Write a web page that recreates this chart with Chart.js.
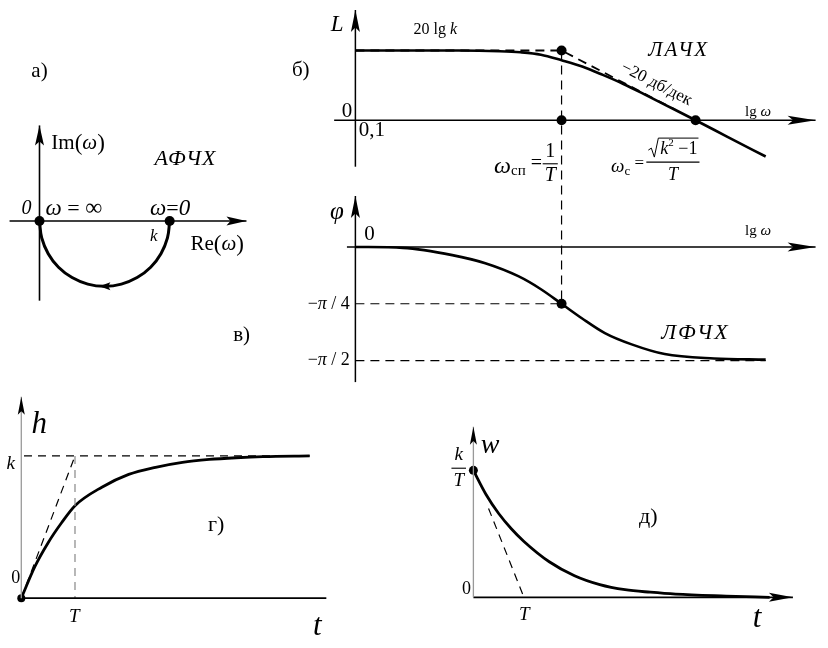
<!DOCTYPE html>
<html><head><meta charset="utf-8">
<script src="https://cdn.jsdelivr.net/npm/chart.js@4.4.1/dist/chart.umd.min.js"></script>
<style>
html,body{margin:0;padding:0;background:#fff;}
body{width:828px;height:648px;position:relative;overflow:hidden;}
canvas{position:absolute;}
</style></head><body>
<canvas id="cA" width="290" height="320" style="left:0px;top:40px"></canvas>
<canvas id="cB" width="548" height="390" style="left:280px;top:0px"></canvas>
<canvas id="cG" width="340" height="263" style="left:0px;top:385px"></canvas>
<canvas id="cD" width="408" height="248" style="left:420px;top:400px"></canvas>
<script>
// ---------- data ----------
// а) АФЧХ (units of k)
const nyqRe = [1, 0.983, 0.933, 0.854, 0.75, 0.629, 0.5, 0.371, 0.25, 0.146, 0.067, 0.017, 0];
const nyqIm = [0, -0.129, -0.25, -0.354, -0.433, -0.483, -0.5, -0.483, -0.433, -0.354, -0.25, -0.129, 0];
const nyqMarksRe = [0, 1];
const nyqMarksIm = [0, 0];
// б) ЛАЧХ (x: lg ω in units where corner = 1, y: units of 20lg k)
const lgW   = [0, 0.5, 0.7, 0.8, 0.9, 1.0, 1.1, 1.2, 1.3, 1.4, 1.5, 1.65, 1.8, 1.99];
const lachx = [1, 1, 0.99, 0.975, 0.94, 0.86, 0.77, 0.65, 0.52, 0.375, 0.225, 0, -0.23, -0.52];
const asymX = [0, 1, 1.55];
const asymY = [1, 1, 0.154];
const lMarksX = [1, 1, 1.65];
const lMarksY = [1, 0, 0];
// в) ЛФЧХ (radians)
const phX = [0, 0.23, 0.47, 0.63, 0.79, 0.9, 1.0, 1.1, 1.21, 1.34, 1.5, 1.74, 1.99];
const phY = [0, -0.013, -0.113, -0.225, -0.404, -0.584, -0.785, -0.988, -1.19, -1.346, -1.48, -1.54, -1.557];
const phTickVals = [-0.785, -1.571];
const phTickLabels = ['4', '2'];
// г) h(t) (t in units of T, h in units of k)
const tH    = [0, 0.25, 0.5, 0.75, 1, 1.5, 2, 2.5, 3, 3.5, 4, 4.5, 5.37];
const hVals = [0, 0.22, 0.39, 0.53, 0.65, 0.78, 0.87, 0.92, 0.955, 0.975, 0.987, 0.995, 1.0];
// д) w(t) (t in units of T, w in units of k/T)
const tW    = [0, 0.25, 0.5, 0.75, 1, 1.5, 2, 2.5, 3, 3.5, 4, 5, 5.86];
const wVals = [1, 0.81, 0.66, 0.54, 0.44, 0.28, 0.17, 0.10, 0.06, 0.04, 0.025, 0.01, 0];

// ---------- helpers ----------
const S = "'Liberation Serif','DejaVu Serif',serif";
const F = (size, it) => (it ? 'italic ' : '') + size + 'px ' + S;
const pts = (xs, ys) => xs.map((x, i) => ({x, y: ys[i]}));

function line(xs, ys, o) {
  o = o || {};
  return {data: pts(xs, ys), borderColor: o.c || '#000', borderWidth: o.w || 1.5,
    borderDash: o.dash || [], pointRadius: 0, fill: false, tension: o.t || 0,
    cubicInterpolationMode: o.mono ? 'monotone' : 'default', yAxisID: o.ax || 'y',
    borderCapStyle: 'butt'};
}
function dots(xs, ys, ax, r) {
  return {data: pts(xs, ys), showLine: false, pointRadius: r || 5, pointBackgroundColor: '#000',
    pointBorderWidth: 0, yAxisID: ax || 'y'};
}
function drawParts(ctx, px, py, parts, align) {
  let w = 0;
  const ws = parts.map(p => { ctx.font = p.f; ctx.letterSpacing = p.ls || '0px';
    const m = ctx.measureText(p.t).width; w += m; return m; });
  let x = px - (align === 'center' ? w / 2 : align === 'right' ? w : 0);
  ctx.textBaseline = 'middle'; ctx.textAlign = 'left';
  parts.forEach((p, i) => { ctx.font = p.f; ctx.letterSpacing = p.ls || '0px';
    ctx.fillText(p.t, x, py + (p.dy || 0)); x += ws[i]; });
  ctx.letterSpacing = '0px';
  return w;
}
function partsWidth(ctx, parts) {
  let w = 0;
  parts.forEach(p => { ctx.font = p.f; ctx.letterSpacing = p.ls || '0px'; w += ctx.measureText(p.t).width; });
  ctx.letterSpacing = '0px';
  return w;
}
function deco(cfg) {
  return {id: 'deco', afterDatasetsDraw(chart) {
    const ctx = chart.ctx, X = chart.scales.x;
    const P = (x, y, ax) => [X.getPixelForValue(x), chart.scales[ax || 'y'].getPixelForValue(y)];
    ctx.save();
    (cfg.links || []).forEach(l => {
      const a = P(l.x1, l.y1, l.ax1), b = P(l.x2, l.y2, l.ax2);
      ctx.setLineDash(l.dash || []); ctx.lineWidth = l.w || 1.2; ctx.strokeStyle = l.c || '#000';
      ctx.beginPath(); ctx.moveTo(a[0], a[1]); ctx.lineTo(b[0], b[1]); ctx.stroke();
    });
    ctx.setLineDash([]);
    (cfg.arrows || []).forEach(a => {
      const p0 = P(a.x1, a.y1, a.ax), p1 = P(a.x2, a.y2, a.ax);
      const ang = Math.atan2(p1[1] - p0[1], p1[0] - p0[0]);
      const L = a.len || 18, H = a.hw || 4;
      ctx.save(); ctx.translate(p1[0], p1[1]); ctx.rotate(ang); ctx.fillStyle = '#000';
      ctx.beginPath(); ctx.moveTo(0, 0); ctx.lineTo(-L, -H); ctx.lineTo(-L * 0.8, 0); ctx.lineTo(-L, H);
      ctx.closePath(); ctx.fill(); ctx.restore();
    });
    ctx.fillStyle = '#000';
    (cfg.texts || []).forEach(t => {
      const p = P(t.x, t.y, t.ax);
      ctx.save(); ctx.translate(p[0], p[1]); if (t.rot) ctx.rotate(t.rot * Math.PI / 180);
      drawParts(ctx, 0, 0, t.parts, t.align || 'center'); ctx.restore();
    });
    (cfg.fracs || []).forEach(fr => {
      const p = P(fr.x, fr.y, fr.ax);
      const nw = partsWidth(ctx, fr.num) + (fr.sqrt ? 12 : 0);
      const dw = partsWidth(ctx, fr.den);
      const bw = Math.max(nw, dw) + 4;
      ctx.lineWidth = 1.1; ctx.strokeStyle = '#000';
      ctx.beginPath(); ctx.moveTo(p[0] - bw / 2, p[1]); ctx.lineTo(p[0] + bw / 2, p[1]); ctx.stroke();
      const ny = p[1] - fr.gap, dy = p[1] + fr.gap;
      if (fr.sqrt) {
        const sx = p[0] - nw / 2;
        ctx.lineWidth = 1;
        ctx.beginPath(); ctx.moveTo(sx, ny + 1); ctx.lineTo(sx + 3, ny - 1); ctx.lineTo(sx + 6, ny + 8);
        ctx.lineTo(sx + 10, ny - 11); ctx.lineTo(sx + nw + 1, ny - 11); ctx.stroke();
        drawParts(ctx, sx + 12, ny, fr.num, 'left');
      } else {
        drawParts(ctx, p[0], ny, fr.num, 'center');
      }
      drawParts(ctx, p[0], dy, fr.den, 'center');
    });
    ctx.restore();
  }};
}
function mk(id, xr, yrs, datasets, cfg) {
  const scales = {x: {type: 'linear', min: xr[0], max: xr[1], display: false}};
  for (const k in yrs) scales[k] = {type: 'linear', min: yrs[k][0], max: yrs[k][1], display: false};
  return new Chart(document.getElementById(id), {
    type: 'line', data: {datasets},
    options: {responsive: false, animation: false, events: [], layout: {padding: 0},
      plugins: {legend: {display: false}, tooltip: {enabled: false}}, scales},
    plugins: [deco(cfg)]
  });
}
const piLabel = d => [{t: '\u2212', f: F(18)}, {t: 'π', f: F(18, 1)}, {t: ' / ' + d, f: F(18)}];

// ---------- а) АФЧХ ----------
mk('cA', [-0.265, 1.886], {y: [-1.026, 1.348]}, [
  line([-0.23, 1.59], [0, 0], {w: 1.6}),
  line([0, 0], [-0.61, 0.732], {w: 1.6}),
  line(nyqRe, nyqIm, {w: 3, t: 0.4}),
  dots(nyqMarksRe, nyqMarksIm, 'y', 5)
], {
  arrows: [
    {x1: 1.4, y1: 0, x2: 1.59, y2: 0, len: 20, hw: 4.5},
    {x1: 0, y1: 0.5, x2: 0, y2: 0.732, len: 20, hw: 4.5},
    {x1: 0.6, y1: -0.5, x2: 0.46, y2: -0.5, len: 11, hw: 4}
  ],
  texts: [
    {x: 0.0, y: 1.144, parts: [{t: 'а)', f: F(21)}]},
    {x: 0.091, y: 0.591, align: 'left', parts: [{t: 'Im', f: F(21)}, {t: '(', f: F(23)}, {t: 'ω', f: F(21, 1)}, {t: ')', f: F(23)}]},
    {x: 1.122, y: 0.472, parts: [{t: 'АФЧХ', f: F(22, 1), ls: '1px'}]},
    {x: -0.10, y: 0.093, parts: [{t: '0', f: F(20, 1)}]},
    {x: 0.047, y: 0.093, align: 'left', parts: [{t: 'ω', f: F(23, 1)}, {t: ' = ', f: F(22)}, {t: '∞', f: F(24)}]},
    {x: 1.004, y: 0.093, parts: [{t: 'ω', f: F(23, 1)}, {t: '=', f: F(22)}, {t: '0', f: F(23, 1)}]},
    {x: 0.878, y: -0.115, parts: [{t: 'k', f: F(17, 1)}]},
    {x: 1.16, y: -0.18, align: 'left', parts: [{t: 'Re', f: F(21)}, {t: '(', f: F(23)}, {t: 'ω', f: F(21, 1)}, {t: ')', f: F(23)}]},
    {x: 1.553, y: -0.878, parts: [{t: 'в)', f: F(21)}]}
  ]
});

// ---------- б) ЛАЧХ и в) ЛФЧХ ----------
mk('cB', [-0.3414, 2.268], {yL: [-3.795, 1.652], yP: [-1.907, 3.342]}, [
  line([0, 0], [-0.666, 1.58], {w: 1.5, ax: 'yL'}),
  line([-0.103, 2.232], [0, 0], {w: 1.5, ax: 'yL'}),
  line(asymX, asymY, {w: 1.8, dash: [9, 6], ax: 'yL'}),
  line(lgW, lachx, {w: 2.6, mono: true, ax: 'yL'}),
  dots(lMarksX, lMarksY, 'yL', 5),
  line([0, 0], [-1.867, 0.704], {w: 1.5, ax: 'yP'}),
  line([-0.041, 2.232], [0, 0], {w: 1.5, ax: 'yP'}),
  line([0, 1], [phTickVals[0], phTickVals[0]], {w: 1.2, dash: [9, 6], ax: 'yP'}),
  line([0, 1.99], [phTickVals[1], phTickVals[1]], {w: 1.2, dash: [9, 6], ax: 'yP'}),
  line(phX, phY, {w: 2.6, mono: true, ax: 'yP'}),
  dots([1], [phTickVals[0]], 'yP', 5)
], {
  links: [{x1: 1, y1: 1, ax1: 'yL', x2: 1, y2: phTickVals[0], ax2: 'yP', dash: [9, 6], w: 1.2}],
  arrows: [
    {x1: 0, y1: 1, x2: 0, y2: 1.58, ax: 'yL', len: 22, hw: 4.5},
    {x1: 2, y1: 0, x2: 2.232, y2: 0, ax: 'yL', len: 28, hw: 4.5},
    {x1: 0, y1: 0.3, x2: 0, y2: 0.704, ax: 'yP', len: 22, hw: 4.5},
    {x1: 2, y1: 0, x2: 2.232, y2: 0, ax: 'yP', len: 28, hw: 4.5}
  ],
  texts: [
    {x: -0.265, y: 0.72, ax: 'yL', parts: [{t: 'б)', f: F(21)}]},
    {x: -0.089, y: 1.373, ax: 'yL', parts: [{t: 'L', f: F(23, 1)}]},
    {x: 0.388, y: 1.303, ax: 'yL', parts: [{t: '20 lg ', f: F(16)}, {t: 'k', f: F(16, 1)}]},
    {x: 1.568, y: 0.996, ax: 'yL', parts: [{t: 'ЛАЧХ', f: F(21, 1), ls: '2px'}]},
    {x: 1.46, y: 0.52, ax: 'yL', rot: 27, parts: [{t: '\u221220 дб/дек', f: F(17)}]},
    {x: 1.953, y: 0.115, ax: 'yL', parts: [{t: 'lg ', f: F(15)}, {t: 'ω', f: F(15, 1)}]},
    {x: -0.041, y: 0.13, ax: 'yL', parts: [{t: '0', f: F(21)}]},
    {x: 0.016, y: -0.15, ax: 'yL', align: 'left', parts: [{t: '0,1', f: F(21)}]},
    {x: 0.905, y: -0.66, ax: 'yL', align: 'right', parts: [{t: 'ω', f: F(24, 1)}, {t: 'сп', f: F(15), dy: 5}, {t: ' =', f: F(20), dy: -3}]},
    {x: 1.40, y: -0.67, ax: 'yL', align: 'right', parts: [{t: 'ω', f: F(19, 1)}, {t: 'c', f: F(13), dy: 5}, {t: ' =', f: F(17), dy: -3}]},
    {x: -0.089, y: 0.475, ax: 'yP', parts: [{t: 'φ', f: F(25, 1)}]},
    {x: 0.068, y: 0.166, ax: 'yP', parts: [{t: '0', f: F(21)}]},
    {x: 1.953, y: 0.219, ax: 'yP', parts: [{t: 'lg ', f: F(15)}, {t: 'ω', f: F(15, 1)}]},
    {x: -0.027, y: phTickVals[0], ax: 'yP', align: 'right', parts: piLabel(phTickLabels[0])},
    {x: -0.027, y: phTickVals[1], ax: 'yP', align: 'right', parts: piLabel(phTickLabels[1])},
    {x: 1.649, y: -1.19, ax: 'yP', parts: [{t: 'ЛФЧХ', f: F(22, 1), ls: '2px'}]}
  ],
  fracs: [
    {x: 0.945, y: -0.624, ax: 'yL', gap: 12, num: [{t: '1', f: F(20)}], den: [{t: 'T', f: F(20, 1)}]},
    {x: 1.54, y: -0.60, ax: 'yL', gap: 13, sqrt: true,
      num: [{t: 'k', f: F(18, 1)}, {t: '2', f: F(11), dy: -6}, {t: ' \u22121', f: F(18)}],
      den: [{t: 'T', f: F(18, 1)}]}
  ]
});

// ---------- г) h(t) ----------
mk('cG', [-0.322, 5.86], {y: [-0.322, 1.47]}, [
  line([0, 0], [0, 1.415], {w: 1.3, c: '#999'}),
  line([-0.05, 5.68], [0, 0], {w: 1.8}),
  line([0.05, 5.37], [1, 1], {w: 1.3, dash: [8, 6]}),
  line([1, 1], [1, 0], {w: 1.2, dash: [8, 6], c: '#888'}),
  line([0, 1], [0, 1], {w: 1.2, dash: [8, 6]}),
  line(tH, hVals, {w: 2.8, mono: true}),
  dots([0], [0], 'y', 4)
], {
  arrows: [{x1: 0, y1: 1, x2: 0, y2: 1.415, len: 18, hw: 3.5}],
  texts: [
    {x: 0.333, y: 1.218, parts: [{t: 'h', f: F(31, 1)}]},
    {x: -0.195, y: 0.946, parts: [{t: 'k', f: F(19, 1)}]},
    {x: -0.104, y: 0.14, parts: [{t: '0', f: F(18)}]},
    {x: 0.987, y: -0.13, parts: [{t: 'T', f: F(19, 1)}]},
    {x: 5.51, y: -0.2, parts: [{t: 't', f: F(31, 1)}]},
    {x: 3.63, y: 0.51, parts: [{t: 'г)', f: F(22)}]}
  ]
});

// ---------- д) w(t) ----------
mk('cD', [-0.967, 6.925], {y: [-0.364, 1.519]}, [
  line([0, 0], [0, 1.344], {w: 1.3, c: '#999'}),
  line([0, 6.32], [0, 0], {w: 1.8}),
  line([0.3, 1], [0.7, 0], {w: 1.2, dash: [8, 6]}),
  line(tW, wVals, {w: 2.8, mono: true}),
  dots([0], [1], 'y', 4.5)
], {
  arrows: [
    {x1: 0, y1: 1, x2: 0, y2: 1.344, len: 18, hw: 3.5},
    {x1: 6, y1: 0, x2: 6.32, y2: 0, len: 24, hw: 4.5}
  ],
  texts: [
    {x: 0.329, y: 1.192, parts: [{t: 'w', f: F(28, 1)}]},
    {x: -0.135, y: 0.06, parts: [{t: '0', f: F(18)}]},
    {x: 1.006, y: -0.137, parts: [{t: 'T', f: F(19, 1)}]},
    {x: 5.61, y: -0.167, parts: [{t: 't', f: F(31, 1)}]},
    {x: 3.46, y: 0.63, parts: [{t: 'д)', f: F(22)}]}
  ],
  fracs: [{x: -0.29, y: 1.017, gap: 13, num: [{t: 'k', f: F(19, 1)}], den: [{t: 'T', f: F(19, 1)}]}]
});
</script>
</body></html>
